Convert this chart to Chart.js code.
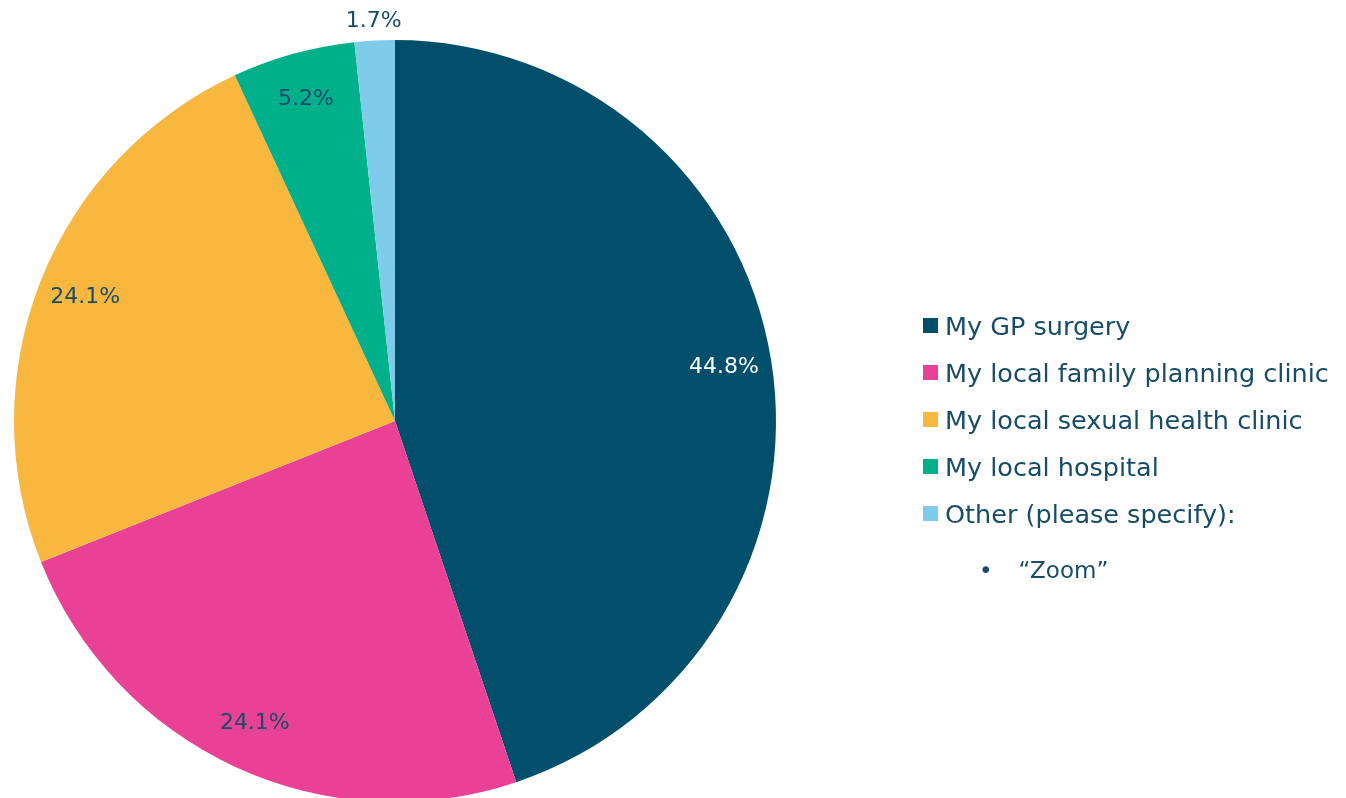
<!DOCTYPE html>
<html>
<head>
<meta charset="utf-8">
<script src="https://cdn.jsdelivr.net/npm/chart.js@4/dist/chart.umd.min.js"></script>
<style>
  html, body { margin: 0; padding: 0; background: #fff; overflow: hidden; }
  #wrap { position: absolute; left: 0; top: 0; width: 1346px; height: 802px; }
  #legend { position: absolute; left: 923px; top: 302px; font-family: "DejaVu Sans", sans-serif; font-size: 25.5px; color: #174c66; }
  #legend .item { height: 47px; display: flex; align-items: center; white-space: nowrap; }
  #legend .box { width: 15px; height: 15px; margin-right: 7px; }
  #legend .note { margin-left: 56px; margin-top: 20px; font-size: 23px; }
  #legend .note span { margin-left: 26px; }
</style>
</head>
<body>
<div id="wrap"><canvas id="pieChart" width="1346" height="802"></canvas></div>
<div id="legend"></div>
<script>
const categories = ["My GP surgery", "My local family planning clinic", "My local sexual health clinic", "My local hospital", "Other (please specify):"];
const percentages = [44.8, 24.1, 24.1, 5.2, 1.7];
const sliceColors = ["#024f6b", "#e84196", "#f8b840", "#00b08b", "#7fcbea"];
const labelColors = ["#ffffff", "#174c66", "#174c66", "#174c66", "#174c66"];
const otherNotes = ["\u201cZoom\u201d"];

// html legend
const legendEl = document.getElementById("legend");
categories.forEach((name, i) => {
    const row = document.createElement("div");
    row.className = "item";
    row.innerHTML = '<div class="box" style="background:' + sliceColors[i] + '"></div>' + name;
    legendEl.appendChild(row);
});
otherNotes.forEach(note => {
    const row = document.createElement("div");
    row.className = "note";
    row.innerHTML = "\u2022<span>" + note + "</span>";
    legendEl.appendChild(row);
});

// percentage labels on the slices
const sliceLabels = {
    id: "sliceLabels",
    afterDatasetsDraw(chart) {
        const ctx = chart.ctx;
        const meta = chart.getDatasetMeta(0);
        ctx.save();
        ctx.font = '22px "DejaVu Sans", sans-serif';
        ctx.textAlign = "center";
        ctx.textBaseline = "middle";
        meta.data.forEach((arc, i) => {
            const p = arc.getProps(["x", "y", "startAngle", "endAngle", "outerRadius"], true);
            const mid = (p.startAngle + p.endAngle) / 2;
            const r = percentages[i] < 3 ? p.outerRadius * 1.05 : p.outerRadius * 0.875;
            ctx.fillStyle = labelColors[i];
            ctx.fillText(percentages[i].toFixed(1) + "%", p.x + Math.cos(mid) * r, p.y + Math.sin(mid) * r);
        });
        ctx.restore();
    }
};

function drawChart() {
    const ctx = document.getElementById("pieChart").getContext("2d");
    new Chart(ctx, {
        type: "pie",
        data: {
            labels: categories,
            datasets: [{
                data: percentages,
                backgroundColor: sliceColors,
                borderWidth: 0
            }]
        },
        options: {
            responsive: false,
            animation: false,
            layout: { padding: { top: 40, right: 556, left: 0, bottom: 0 } },
            plugins: {
                legend: { display: false },
                tooltip: { enabled: false }
            }
        },
        plugins: [sliceLabels]
    });
}

document.addEventListener("DOMContentLoaded", drawChart);
</script>
</body>
</html>
